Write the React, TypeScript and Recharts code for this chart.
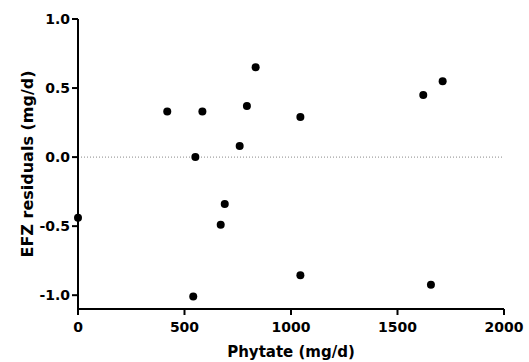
import { ScatterChart, Scatter, XAxis, YAxis, ReferenceLine, Label } from "recharts";

const phytate = [0, 419, 584, 834, 793, 1044, 759, 551, 689, 670, 1044, 541, 1712, 1621, 1657];
const residuals = [-0.44, 0.33, 0.33, 0.65, 0.37, 0.29, 0.08, 0.0, -0.34, -0.49, -0.855, -1.01, 0.55, 0.45, -0.925];
const xTicks = [0, 500, 1000, 1500, 2000];
const yTicks = [-1.0, -0.5, 0.0, 0.5, 1.0];

const data = phytate.map((x, i) => ({ x, y: residuals[i] }));

const font = "'DejaVu Sans', sans-serif";
const tickStyle = { fontSize: 14, fontWeight: 700, fill: "#000", fontFamily: font };

const Dot = (props: any) => <circle cx={props.cx} cy={props.cy} r={4} fill="#000" />;

export default function App() {
  return (
    <div style={{ position: "absolute", left: 0, top: 0 }}>
      <ScatterChart width={529} height={362} margin={{ top: 19, right: 25, left: 0, bottom: 0 }}>
        <XAxis
          type="number"
          dataKey="x"
          domain={[0, 2000]}
          ticks={xTicks}
          height={53}
          tick={tickStyle}
          tickSize={6}
          tickMargin={7}
          axisLine={{ stroke: "#000", strokeWidth: 2 }}
          tickLine={{ stroke: "#000", strokeWidth: 2 }}
        >
          <Label
            value="Phytate (mg/d)"
            position="insideBottom"
            offset={5}
            style={{ fontSize: 15, fontWeight: 700, fill: "#000", fontFamily: font }}
          />
        </XAxis>
        <YAxis
          type="number"
          dataKey="y"
          domain={[-1.1, 1.0]}
          ticks={yTicks}
          width={78}
          tick={tickStyle}
          tickFormatter={(v: number) => v.toFixed(1)}
          tickSize={6}
          tickMargin={2}
          axisLine={{ stroke: "#000", strokeWidth: 2 }}
          tickLine={{ stroke: "#000", strokeWidth: 2 }}
        >
          <Label
            value="EFZ residuals (mg/d)"
            angle={-90}
            position="center"
            dx={-12}
            style={{ fontSize: 16, fontWeight: 700, fill: "#000", fontFamily: font, textAnchor: "middle" }}
          />
        </YAxis>
        <ReferenceLine y={0} stroke="#888" strokeDasharray="1 2" strokeWidth={1} />
        <Scatter data={data} shape={Dot} isAnimationActive={false} />
      </ScatterChart>
    </div>
  );
}
